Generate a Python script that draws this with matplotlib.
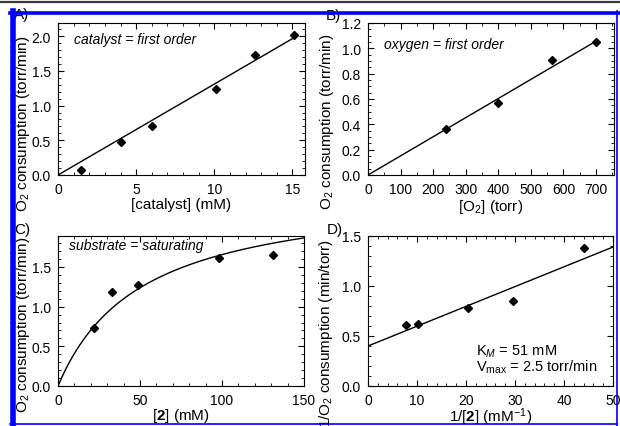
import numpy as np
import matplotlib
matplotlib.use('Agg')
import matplotlib.pyplot as plt
from matplotlib.ticker import MultipleLocator, FormatStrFormatter
from matplotlib.lines import Line2D

plt.rcParams['font.family'] = ['Liberation Sans', 'DejaVu Sans']
plt.rcParams['mathtext.fontset'] = 'custom'
plt.rcParams['mathtext.rm'] = 'Liberation Sans'
plt.rcParams['mathtext.it'] = 'Liberation Sans:italic'
plt.rcParams['mathtext.bf'] = 'Liberation Sans:bold'

# panel A: catalyst dependence
cat_conc = [1.5, 4.0, 6.0, 10.1, 12.6, 15.1]
cat_rate = [0.07, 0.47, 0.71, 1.24, 1.73, 2.01]
cat_slope = 0.131

# panel B: oxygen dependence
o2_press = [240, 400, 565, 700]
o2_rate = [0.36, 0.57, 0.91, 1.05]
o2_slope = 0.00151

# panel C: substrate saturation
sub_conc = [22, 33, 49, 98, 131]
sub_rate = [0.73, 1.18, 1.27, 1.61, 1.65]
Km = 51.0
Vmax = 2.5

# panel D: double reciprocal
inv_sub = [7.7, 10.2, 20.4, 29.5, 44.0]
inv_rate = [0.61, 0.62, 0.78, 0.85, 1.38]
lb_int = 0.40
lb_slope = 0.0198

W, H = 620, 427
fig = plt.figure(figsize=(W / 100, H / 100), dpi=100)


def px_axes(left, right, top, bottom):
    return fig.add_axes([left / W, (H - bottom) / H, (right - left) / W, (bottom - top) / H])


def style(ax, xmaj, xmin, ymaj, ymin):
    ax.xaxis.set_major_locator(MultipleLocator(xmaj))
    ax.xaxis.set_minor_locator(MultipleLocator(xmin))
    ax.yaxis.set_major_locator(MultipleLocator(ymaj))
    ax.yaxis.set_minor_locator(MultipleLocator(ymin))
    ax.yaxis.set_major_formatter(FormatStrFormatter('%.1f'))
    ax.tick_params(which='both', direction='in', top=True, right=True, labelsize=10, pad=5)
    ax.tick_params(which='major', length=4, width=0.8)
    ax.tick_params(which='minor', length=2, width=0.6)
    for s in ax.spines.values():
        s.set_linewidth(0.8)


mk = dict(marker='D', color='black', markersize=4, linestyle='none')
lab = 11

# A
axA = px_axes(58, 305, 24, 176)
axA.plot(cat_conc, cat_rate, **mk)
xa = np.array([0, 15.1])
axA.plot(xa, cat_slope * xa, color='black', lw=1)
axA.set_xlim(0, 15.8)
axA.set_ylim(0, 2.19)
style(axA, 5, 1, 0.5, 0.1)
axA.set_xlabel('[catalyst] (mM)', fontsize=lab, labelpad=1)
axA.set_ylabel('O$_2$ consumption (torr/min)', fontsize=lab)
axA.yaxis.set_label_coords(-0.105, 0.342)
axA.text(1.0, 1.9, 'catalyst = first order', style='italic', fontsize=10)

# B
axB = px_axes(368, 614, 24, 176)
axB.plot(o2_press, o2_rate, **mk)
xb = np.array([0, 700])
axB.plot(xb, o2_slope * xb, color='black', lw=1)
axB.set_xlim(0, 755)
axB.set_ylim(0, 1.2)
style(axB, 100, 50, 0.2, 0.05)
axB.set_xlabel('[O$_2$] (torr)', fontsize=lab, labelpad=1)
axB.set_ylabel('O$_2$ consumption (torr/min)', fontsize=lab)
axB.yaxis.set_label_coords(-0.13, 0.355)
axB.text(48, 1.0, 'oxygen = first order', style='italic', fontsize=10)

# C
axC = px_axes(58, 304, 237, 387)
axC.plot(sub_conc, sub_rate, **mk)
xc = np.linspace(0, 150, 200)
axC.plot(xc, Vmax * xc / (Km + xc), color='black', lw=1)
axC.set_xlim(0, 150)
axC.set_ylim(0, 1.89)
style(axC, 50, 10, 0.5, 0.1)
axC.set_xlabel(r'[$\mathbf{2}$] (mM)', fontsize=lab, labelpad=-1)
axC.set_ylabel('O$_2$ consumption (torr/min)', fontsize=lab)
axC.yaxis.set_label_coords(-0.105, 0.413)
axC.text(7, 1.72, 'substrate = saturating', style='italic', fontsize=10)

# D
axD = px_axes(368, 613, 237, 387)
axD.plot(inv_sub, inv_rate, **mk)
xd = np.array([0, 50])
axD.plot(xd, lb_int + lb_slope * xd, color='black', lw=1)
axD.set_xlim(0, 50)
axD.set_ylim(0, 1.5)
style(axD, 10, 2, 0.5, 0.1)
axD.set_xlabel(r'1/[$\mathbf{2}$] (mM$^{-1}$)', fontsize=lab, labelpad=-1)
axD.set_ylabel('1/O$_2$ consumption (min/torr)', fontsize=lab)
axD.yaxis.set_label_coords(-0.135, 0.357)
axD.text(22, 0.31, r'K$_{M}$ = 51 mM', fontsize=10.5)
axD.text(22, 0.15, r'V$_{\mathrm{max}}$ = 2.5 torr/min', fontsize=10.5)

# panel letters
fig.text(14 / W, 1 - 15 / H, 'A)', fontsize=lab, va='center')
fig.text(326 / W, 1 - 16 / H, 'B)', fontsize=lab, va='center')
fig.text(14 / W, 1 - 230 / H, 'C)', fontsize=lab, va='center')
fig.text(327 / W, 1 - 230 / H, 'D)', fontsize=lab, va='center')

# page frame
def fline(x0, y0, x1, y1, color, lw):
    fig.add_artist(Line2D([x0 / W, x1 / W], [1 - y0 / H, 1 - y1 / H],
                          color=color, lw=lw, transform=fig.transFigure, zorder=10))

fline(0, 3, W, 3, '#3a3a3a', 1.6)
fline(10, 13.5, W, 13.5, '#0000ff', 2.6)
fline(12.5, 12, 12.5, H, '#0000ff', 4)
fline(616.5, 12, 616.5, H, '#0000ff', 1.2)
fline(10, 424.5, 617, 424.5, '#0000ff', 1.2)

fig.savefig('out.png', dpi=100)
